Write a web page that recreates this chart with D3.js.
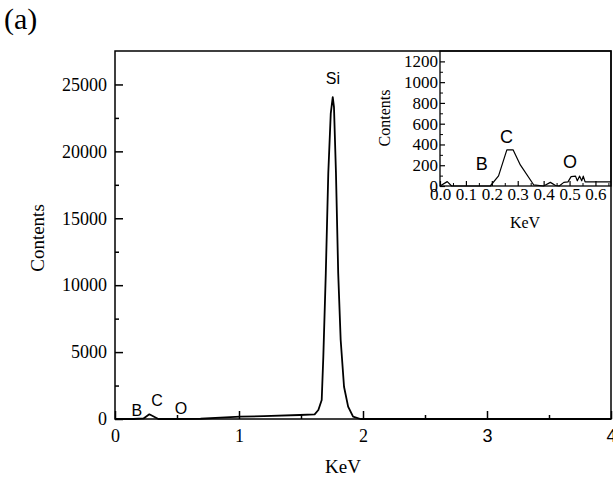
<!DOCTYPE html>
<html><head><meta charset="utf-8">
<script src="https://cdn.jsdelivr.net/npm/d3@7/dist/d3.min.js"></script>
<style>
body{margin:0;background:#fff;}
svg{display:block;}
</style></head>
<body>
<svg id="c" width="613" height="479"></svg>
<script>
// Main spectrum (keV, counts)
const mainEnergy = [0.0, 0.15, 0.23, 0.277, 0.35, 0.45, 0.69, 0.85, 1.01, 1.2, 1.49, 1.61, 1.64, 1.667, 1.68, 1.70, 1.72, 1.74, 1.756, 1.766, 1.782, 1.80, 1.82, 1.847, 1.88, 1.92, 1.98, 4.0];
const mainCounts = [0, 0, 40, 350, 0, 0, 20, 100, 170, 220, 300, 350, 670, 1420, 4650, 10900, 18360, 22840, 24050, 23300, 18360, 10900, 5900, 2410, 920, 170, 0, 0];
// Inset (low-energy region)
const insetEnergy = [0.0, 0.028, 0.045, 0.194, 0.226, 0.258, 0.282, 0.31, 0.362, 0.40, 0.426, 0.446, 0.46, 0.478, 0.494, 0.506, 0.523, 0.53, 0.539, 0.547, 0.553, 0.56, 0.66];
const insetCounts = [0, 42, 0, 0, 97, 348, 348, 203, 10, 0, 35, 5, 0, 35, 40, 90, 95, 50, 95, 50, 95, 40, 40];
// Tick values
const mainXTicks = [0, 1, 2, 3, 4];
const mainXMinor = [0.5, 1.5, 2.5, 3.5];
const mainYTicks = [0, 5000, 10000, 15000, 20000, 25000];
const mainYMinor = [2500, 7500, 12500, 17500, 22500];
const insetXTicks = [0, 0.1, 0.2, 0.3, 0.4, 0.5, 0.6];
const insetXMinor = [0.05, 0.15, 0.25, 0.35, 0.45, 0.55, 0.65];
const insetYTicks = [0, 200, 400, 600, 800, 1000, 1200];
const insetYMinor = [100, 300, 500, 700, 900, 1100];
// Peak labels
const mainPeaks = [{t:"B", x:0.177, y:250}, {t:"C", x:0.339, y:1000}, {t:"O", x:0.532, y:350}, {t:"Si", x:1.758, y:25000}];
const insetPeaks = [{t:"B", x:0.161, y:150}, {t:"C", x:0.257, y:414}, {t:"O", x:0.502, y:173}];

const serif = "'Liberation Serif','Times New Roman',serif";
const sans = "'Liberation Sans',Arial,sans-serif";
const svg = d3.select("#c");

// ---------- main ----------
const M = {l:115, r:611, t:51, b:419};
const x = d3.scaleLinear().domain([0,4]).range([M.l, M.r]);
const y = d3.scaleLinear().domain([0,27500]).range([M.b, M.t]);

function styleAxis(g, fs, fam){
  g.select(".domain").remove();
  g.selectAll("line").attr("stroke","#000").attr("stroke-width",1.5);
  g.selectAll("text").attr("font-size",fs).attr("fill","#000").attr("font-family",fam);
}

const gx = svg.append("g").attr("transform",`translate(0,${M.b})`)
  .call(d3.axisBottom(x).tickValues(mainXTicks).tickSize(-8).tickPadding(10).tickFormat(d3.format("d")));
styleAxis(gx, 18, serif);
gx.selectAll("text").attr("font-family", d => d >= 3 ? sans : serif);
const gxm = svg.append("g").attr("transform",`translate(0,${M.b})`)
  .call(d3.axisBottom(x).tickValues(mainXMinor).tickSize(-4).tickFormat(""));
styleAxis(gxm, 18, serif);

const gy = svg.append("g").attr("transform",`translate(${M.l},0)`)
  .call(d3.axisLeft(y).tickValues(mainYTicks).tickSize(-8).tickPadding(8).tickFormat(d3.format("d")));
styleAxis(gy, 18, serif);
const gym = svg.append("g").attr("transform",`translate(${M.l},0)`)
  .call(d3.axisLeft(y).tickValues(mainYMinor).tickSize(-4).tickFormat(""));
styleAxis(gym, 18, serif);

svg.append("rect").attr("x",M.l).attr("y",M.t).attr("width",M.r-M.l).attr("height",M.b-M.t)
  .attr("fill","none").attr("stroke","#000").attr("stroke-width",1.5);

const line = d3.line().x((d,i)=>x(mainEnergy[i])).y((d,i)=>y(mainCounts[i]));
svg.append("path").datum(mainCounts).attr("d",line).attr("fill","none").attr("stroke","#000").attr("stroke-width",1.8).attr("stroke-linejoin","round");

svg.selectAll(".mp").data(mainPeaks).enter().append("text")
  .attr("x",d=>x(d.x)).attr("y",d=>y(d.y)).attr("text-anchor","middle")
  .attr("font-family",sans).attr("font-size",16).attr("fill","#000").text(d=>d.t);

svg.append("text").attr("x",343).attr("y",473).attr("text-anchor","middle")
  .attr("font-family",serif).attr("font-size",19).text("KeV");
svg.append("text").attr("transform","translate(44,238) rotate(-90)").attr("text-anchor","middle")
  .attr("font-family",serif).attr("font-size",19).text("Contents");
svg.append("text").attr("x",4).attr("y",29).attr("font-family",serif).attr("font-size",30).text("(a)");

// ---------- inset ----------
const I = {l:440, r:611, t:51, b:186};
const xi = d3.scaleLinear().domain([0,0.66]).range([I.l, I.r]);
const yi = d3.scaleLinear().domain([0,1300]).range([I.b, I.t]);

const gxi = svg.append("g").attr("transform",`translate(0,${I.b})`)
  .call(d3.axisBottom(xi).tickValues(insetXTicks).tickSize(-5).tickPadding(2).tickFormat(d3.format(".1f")));
styleAxis(gxi, 17, serif);
gxi.selectAll("line").attr("stroke-width",1.2);
const gxim = svg.append("g").attr("transform",`translate(0,${I.b})`)
  .call(d3.axisBottom(xi).tickValues(insetXMinor).tickSize(-3).tickFormat(""));
styleAxis(gxim, 17, serif);
gxim.selectAll("line").attr("stroke-width",1);

const gyi = svg.append("g").attr("transform",`translate(${I.l},0)`)
  .call(d3.axisLeft(yi).tickValues(insetYTicks).tickSize(-5).tickPadding(2).tickFormat(d3.format("d")));
styleAxis(gyi, 17, serif);
gyi.selectAll("line").attr("stroke-width",1.2);
const gyim = svg.append("g").attr("transform",`translate(${I.l},0)`)
  .call(d3.axisLeft(yi).tickValues(insetYMinor).tickSize(-3).tickFormat(""));
styleAxis(gyim, 17, serif);
gyim.selectAll("line").attr("stroke-width",1);

svg.append("rect").attr("x",I.l).attr("y",I.t).attr("width",I.r-I.l).attr("height",I.b-I.t)
  .attr("fill","none").attr("stroke","#000").attr("stroke-width",1.3);

const linei = d3.line().x((d,i)=>xi(insetEnergy[i])).y((d,i)=>yi(insetCounts[i]));
svg.append("path").datum(insetCounts).attr("d",linei).attr("fill","none").attr("stroke","#000").attr("stroke-width",1.2).attr("stroke-linejoin","round");

svg.selectAll(".ip").data(insetPeaks).enter().append("text")
  .attr("x",d=>xi(d.x)).attr("y",d=>yi(d.y)).attr("text-anchor","middle")
  .attr("font-family",sans).attr("font-size",18).attr("fill","#000").text(d=>d.t);

svg.append("text").attr("x",525).attr("y",228).attr("text-anchor","middle")
  .attr("font-family",serif).attr("font-size",16).text("KeV");
svg.append("text").attr("transform","translate(390,118) rotate(-90)").attr("text-anchor","middle")
  .attr("font-family",serif).attr("font-size",16).text("Contents");
</script>
</body></html>
